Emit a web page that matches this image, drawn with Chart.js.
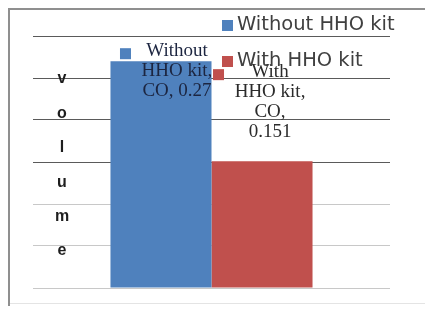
<!DOCTYPE html>
<html>
<head>
<meta charset="utf-8">
<script src="https://cdn.jsdelivr.net/npm/chart.js@4/dist/chart.umd.min.js"></script>
<style>
  html, body { margin: 0; padding: 0; background: #fff; }
  canvas { display: block; }
</style>
</head>
<body>
<canvas id="chart" width="425" height="309"></canvas>
<script>
const categories = ["CO"]
const seriesNames = ["Without HHO kit", "With HHO kit"]
const withoutKit = [0.27]
const withKit = [0.151]
const yTicks = [0, 0.05, 0.1, 0.15, 0.2, 0.25, 0.3]
const axisTitle = "volume"

const colors = ["#4f81bd", "#c0504d"]
// where each data label sits relative to its bar (dx from centre, dy from top)
const labelOffsets = [{ dx: 16, dy: -10, wrap: 80 }, { dx: 8, dy: -89, wrap: 74 }]

const frame = {
    id: "frame",
    beforeDraw(chart) {
        const ctx = chart.ctx
        ctx.save()
        ctx.fillStyle = "#fff"
        ctx.fillRect(0, 0, chart.width, chart.height)
        ctx.strokeStyle = "#8f8f8f"
        ctx.lineWidth = 2
        ctx.beginPath()
        ctx.moveTo(9, 306)
        ctx.lineTo(9, 9)
        ctx.lineTo(chart.width, 9)
        ctx.stroke()
        ctx.strokeStyle = "#e4e4e4"
        ctx.lineWidth = 1
        ctx.beginPath()
        ctx.moveTo(10, 303.5)
        ctx.lineTo(chart.width, 303.5)
        ctx.stroke()
        ctx.restore()
    }
}

const wrapWords = (ctx, text, maxWidth) => {
    const words = text.split(" ")
    const lines = []
    let line = ""
    words.forEach(w => {
        const test = line ? line + " " + w : w
        if (line && ctx.measureText(test).width > maxWidth) {
            lines.push(line)
            line = w
        } else {
            line = test
        }
    })
    if (line) lines.push(line)
    return lines
}

const extras = {
    id: "extras",
    afterDraw(chart) {
        const ctx = chart.ctx
        ctx.save()

        // stacked letters instead of a rotated axis title
        ctx.font = "bold 16px 'Liberation Sans', Arial, sans-serif"
        ctx.fillStyle = "#1e1e1e"
        ctx.textAlign = "center"
        ctx.textBaseline = "middle"
        axisTitle.split("").forEach((ch, i) => {
            ctx.fillText(ch, 62, 79 + i * 34.4)
        })

        // data labels with legend keys
        ctx.font = "19px 'Liberation Serif', 'Times New Roman', serif"
        chart.data.datasets.forEach((ds, di) => {
            const bar = chart.getDatasetMeta(di).data[0]
            const off = labelOffsets[di]
            const text = `${ds.label}, ${categories[0]}, ${ds.data[0]}`
            const lines = wrapWords(ctx, text, off.wrap)
            const cx = bar.x + off.dx
            const y0 = bar.y + off.dy
            ctx.fillStyle = ds.backgroundColor
            ctx.fillRect(cx - 57, y0 - 3, 11, 11)
            ctx.fillStyle = di === 0 ? "#1c2540" : "#2b2b2b"
            lines.forEach((ln, i) => ctx.fillText(ln, cx, y0 + i * 20))
        })

        // legend, overlapping the plot like the original
        ctx.font = "19.5px 'DejaVu Sans', sans-serif"
        ctx.textAlign = "left"
        chart.data.datasets.forEach((ds, di) => {
            const y = 25 + di * 36
            ctx.fillStyle = ds.backgroundColor
            ctx.fillRect(222, y - 5, 11, 11)
            ctx.fillStyle = "#404040"
            ctx.fillText(ds.label, 237, y)
        })
        ctx.restore()
    }
}

new Chart(document.getElementById("chart").getContext("2d"), {
    type: "bar",
    data: {
        labels: categories,
        datasets: [
            { label: seriesNames[0], data: withoutKit, backgroundColor: colors[0] },
            { label: seriesNames[1], data: withKit, backgroundColor: colors[1] }
        ]
    },
    options: {
        responsive: false,
        animation: false,
        layout: { padding: { left: 33, right: 35, top: 36, bottom: 21 } },
        datasets: { bar: { barPercentage: 1, categoryPercentage: 0.566 } },
        scales: {
            x: { display: false },
            y: {
                min: 0,
                max: yTicks[yTicks.length - 1],
                afterBuildTicks: axis => { axis.ticks = yTicks.map(v => ({ value: v })) },
                ticks: { display: false },
                border: { display: false },
                grid: {
                    drawTicks: false,
                    color: c => c.tick && c.tick.value >= 0.15 ? "#5a5a5a" : "#c8c8c8"
                }
            }
        },
        plugins: {
            legend: { display: false },
            tooltip: { enabled: false }
        }
    },
    plugins: [frame, extras]
})
</script>
</body>
</html>
